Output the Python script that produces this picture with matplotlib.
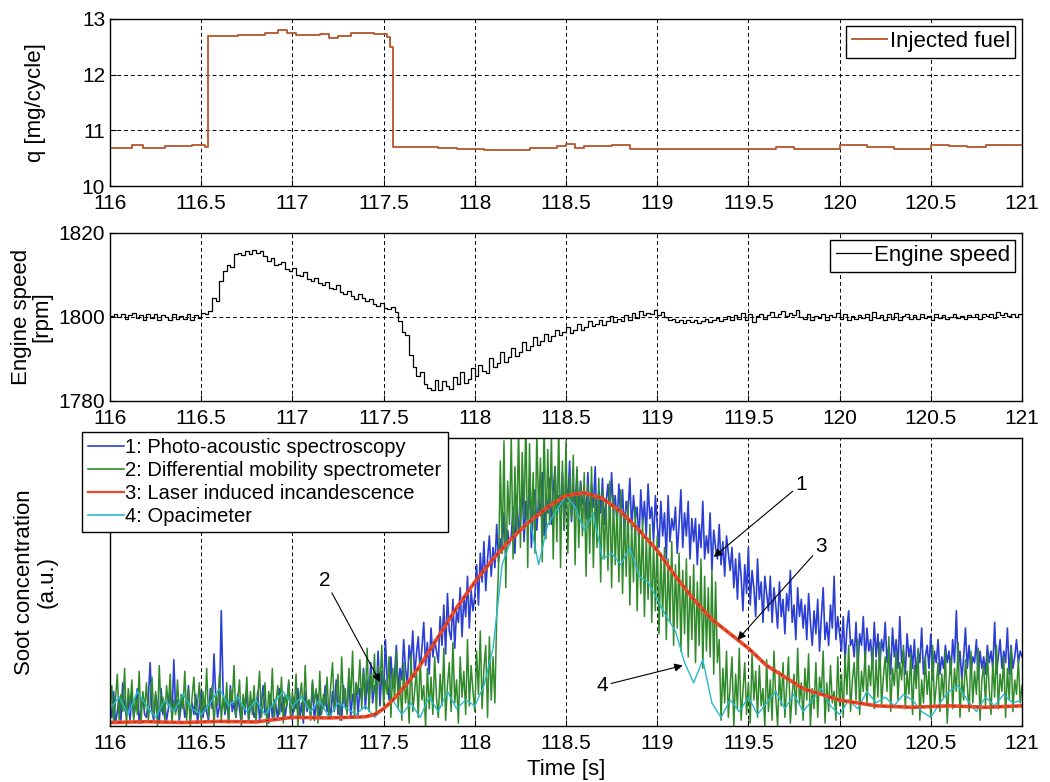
import numpy as np
import matplotlib
matplotlib.use("Agg")
import matplotlib.pyplot as plt
from matplotlib.lines import Line2D

plt.rcParams['font.family'] = ['Liberation Sans', 'DejaVu Sans']

# --- injected fuel (step signal) ---
t_fuel = [116.0, 116.12, 116.18, 116.3, 116.45, 116.52, 116.535, 116.7, 116.85, 116.92,
          116.97, 117.02, 117.15, 117.2, 117.25, 117.32, 117.45, 117.52, 117.535, 117.55,
          117.8, 117.9, 118.05, 118.3, 118.45, 118.5, 118.55, 118.6, 118.75, 118.85,
          119.0, 119.55, 119.65, 119.75, 120.0, 120.15, 120.3, 120.5, 120.6, 120.7,
          120.8, 121.0]
q_fuel = [10.68, 10.73, 10.69, 10.71, 10.74, 10.70, 12.70, 12.72, 12.75, 12.80,
          12.74, 12.71, 12.73, 12.66, 12.70, 12.74, 12.73, 12.67, 12.50, 10.70,
          10.68, 10.66, 10.65, 10.68, 10.72, 10.76, 10.69, 10.72, 10.73, 10.67,
          10.66, 10.67, 10.70, 10.67, 10.74, 10.70, 10.67, 10.74, 10.72, 10.70,
          10.73, 10.73]

# --- engine speed, sampled every 20 ms ---
t_speed = 116.0 + 0.02 * np.arange(251)
n_speed = [
    1800.2, 1800.8, 1799.9, 1800.6, 1799.6, 1800.4, 1800.9, 1799.7, 1800.5, 1799.3,
    1800.6, 1799.8, 1800.7, 1799.3, 1800.4, 1800.0, 1799.2, 1800.8, 1799.6, 1800.3,
    1799.5, 1800.7, 1799.2, 1800.5, 1799.8, 1801.0, 1800.8, 1801.5, 1804.5, 1803.8,
    1808.5, 1811.0, 1812.5, 1811.8, 1815.0, 1815.2, 1814.8, 1815.6, 1815.0, 1816.0,
    1815.3, 1815.8, 1814.5, 1813.4, 1814.0, 1812.3, 1812.6, 1813.0, 1811.4, 1811.0,
    1811.6, 1810.0, 1809.8, 1810.6, 1809.0, 1808.6, 1809.4, 1808.2, 1807.6, 1808.4,
    1807.0, 1806.6, 1807.6, 1806.0, 1805.4, 1806.2, 1805.0, 1804.4, 1805.4, 1804.6,
    1803.8, 1804.4, 1803.2, 1802.6, 1803.4, 1802.2, 1801.8, 1802.4, 1801.2, 1799.0,
    1796.5, 1795.8, 1791.0, 1788.0, 1786.0, 1786.8, 1784.0, 1783.0, 1782.6, 1785.0,
    1782.6, 1784.8, 1783.6, 1782.8, 1785.6, 1784.0, 1786.8, 1784.4, 1785.2, 1787.8,
    1786.0, 1788.6, 1787.2, 1786.6, 1790.2, 1788.0, 1789.0, 1791.6, 1789.4, 1790.4,
    1792.6, 1790.8, 1791.6, 1794.0, 1792.2, 1793.0, 1795.2, 1793.4, 1794.2, 1796.0,
    1794.4, 1795.4, 1797.0, 1795.6, 1796.4, 1797.6, 1796.2, 1797.0, 1798.4, 1797.0,
    1797.6, 1799.0, 1797.8, 1798.4, 1799.4, 1798.2, 1799.0, 1800.2, 1798.8, 1799.6,
    1799.0, 1800.4, 1799.2, 1801.0, 1799.8, 1801.4, 1800.4, 1801.0, 1800.6, 1801.6,
    1800.4, 1801.2, 1800.0, 1799.2, 1799.6, 1798.8, 1799.4, 1798.6, 1799.2, 1798.8,
    1799.4, 1798.6, 1799.0, 1799.6, 1798.8, 1799.4, 1799.8, 1799.0, 1799.6, 1800.2,
    1799.2, 1800.4, 1799.6, 1801.0, 1799.4, 1800.6, 1798.8, 1800.2, 1800.8, 1799.6,
    1800.4, 1801.2, 1800.0, 1800.8, 1801.4, 1800.2, 1801.0, 1800.4, 1801.6, 1800.0,
    1799.6, 1800.6, 1799.4, 1800.2, 1799.8, 1800.8, 1799.2, 1800.4, 1800.0, 1801.0,
    1799.6, 1800.8, 1799.4, 1800.2, 1799.6, 1800.4, 1799.8, 1800.6, 1799.4, 1801.2,
    1799.8, 1800.4, 1799.2, 1800.6, 1799.6, 1801.0, 1799.4, 1800.2, 1800.6, 1799.6,
    1800.4, 1799.6, 1800.8, 1799.8, 1800.2, 1799.4, 1800.6, 1799.8, 1800.4, 1799.6,
    1800.0, 1800.6, 1799.8, 1800.2, 1799.6, 1800.4, 1800.0, 1800.6, 1799.6, 1800.8,
    1800.2, 1800.6, 1799.8, 1801.2, 1800.4, 1801.0, 1800.2, 1800.8, 1800.0, 1800.6,
    1800.4]

# --- soot signals (arbitrary units), 10 ms samples ---
t_soot = 116.0 + 0.01 * np.arange(501)
pas = [
    8, 3, 12, 1, 5, 10, 2, 15, 6, 4, 9, 2, 11, 3, 7, 13, 1, 6, 10, 4,
    3, 9, 22, 5, 2, 11, 7, 1, 13, 4, 8, 2, 6, 12, 3, 23, 5, 9, 2, 7,
    10, 3, 6, 14, 2, 8, 4, 11, 1, 7, 12, 3, 9, 5, 2, 13, 6, 25, 10, 3,
    7, 40, 12, 4, 9, 2, 14, 5, 8, 3, 11, 6, 1, 10, 4, 13, 2, 7, 9, 3,
    5, 12, 2, 8, 14, 4, 6, 1, 11, 3, 9, 7, 2, 13, 5, 10, 3, 8, 15, 4,
    2, 10, 6, 13, 3, 8, 1, 12, 5, 9, 4, 15, 2, 7, 11, 3, 9, 6, 14, 5,
    8, 3, 12, 6, 16, 4, 10, 2, 14, 7, 5, 18, 3, 11, 8, 15, 4, 13, 9, 20,
    6, 16, 10, 22, 8, 14, 12, 26, 7, 19, 11, 30, 15, 9, 24, 13, 18, 28, 12, 20,
    16, 30, 20, 14, 28, 22, 33, 17, 25, 31, 19, 27, 36, 21, 29, 18, 34, 24, 30, 26,
    22, 38, 28, 42, 25, 46, 33, 30, 44, 27, 40, 36, 48, 31, 45, 38, 52, 34, 47, 40,
    45, 56, 42, 60, 50, 64, 47, 58, 66, 52, 62, 55, 70, 57, 65, 60, 74, 58, 68, 63,
    66, 76, 60, 80, 68, 72, 84, 64, 78, 70, 86, 62, 75, 82, 68, 79, 73, 88, 66, 80,
    74, 86, 70, 82, 90, 72, 80, 76, 88, 68, 84, 78, 92, 71, 83, 75, 89, 73, 85, 77,
    80, 72, 88, 70, 84, 76, 90, 68, 82, 74, 86, 70, 78, 84, 72, 88, 74, 80, 70, 84,
    72, 82, 66, 78, 74, 86, 68, 80, 72, 76, 64, 82, 70, 78, 66, 84, 72, 76, 64, 80,
    70, 62, 78, 66, 74, 58, 80, 64, 72, 68, 76, 60, 70, 82, 62, 74, 66, 78, 58, 72,
    64, 72, 56, 70, 62, 78, 58, 66, 60, 74, 54, 68, 62, 58, 70, 56, 64, 52, 66, 60,
    54, 62, 48, 58, 44, 60, 52, 40, 56, 46, 62, 42, 54, 48, 38, 58, 44, 50, 36, 52,
    46, 40, 52, 36, 48, 42, 34, 50, 38, 44, 32, 46, 40, 54, 36, 42, 30, 48, 38, 44,
    34, 42, 30, 46, 36, 28, 40, 32, 44, 26, 38, 48, 30, 36, 28, 42, 34, 52, 30, 38,
    32, 26, 38, 22, 34, 40, 28, 30, 24, 36, 20, 32, 28, 38, 22, 34, 26, 30, 20, 36,
    24, 32, 20, 30, 26, 36, 22, 28, 18, 34, 24, 30, 20, 38, 22, 26, 18, 32, 24, 28,
    20, 30, 16, 26, 22, 34, 18, 24, 28, 20, 32, 16, 26, 22, 30, 18, 24, 20, 28, 22,
    26, 18, 30, 22, 40, 20, 26, 16, 24, 34, 20, 28, 18, 24, 22, 30, 16, 26, 20, 24,
    18, 28, 22, 26, 20, 36, 18, 24, 30, 20, 26, 22, 34, 18, 28, 20, 24, 30, 22, 26,
    24]
dms = [
    3, 14, 1, 9, 18, 2, 11, 5, 20, 0, 13, 7, 16, 2, 10, 4, 19, 1, 12, 6,
    15, 2, 8, 17, 3, 12, 0, 21, 5, 10, 2, 14, 7, 18, 1, 9, 4, 16, 3, 11,
    6, 19, 2, 13, 0, 10, 17, 4, 8, 15, 1, 12, 5, 20, 3, 9, 14, 0, 11, 7,
    18, 2, 10, 5, 15, 1, 13, 8, 21, 3, 9, 16, 0, 11, 6, 17, 2, 12, 4, 14,
    1, 10, 19, 3, 8, 15, 0, 12, 6, 20, 2, 9, 14, 4, 17, 1, 11, 7, 16, 3,
    12, 5, 18, 0, 10, 15, 3, 21, 6, 9, 2, 16, 8, 13, 1, 19, 4, 11, 7, 17,
    3, 14, 22, 5, 10, 18, 2, 24, 8, 13, 4, 20, 9, 26, 3, 15, 11, 23, 6, 19,
    10, 27, 5, 18, 12, 25, 4, 21, 14, 28, 7, 16, 11, 24, 3, 20, 9, 26, 6, 17,
    2, 22, 8, 15, 1, 25, 5, 12, 19, 3, 23, 9, 14, 0, 20, 6, 17, 4, 24, 10,
    3, 18, 7, 27, 2, 14, 22, 5, 29, 8, 16, 1, 24, 10, 19, 4, 30, 7, 21, 12,
    5, 26, 11, 33, 6, 20, 28, 3, 31, 9, 24, 8, 38, 55, 92, 60, 99, 48, 85, 70,
    100, 58, 90, 66, 104, 62, 95, 72, 108, 55, 98, 68, 88, 60, 102, 74, 93, 57, 106, 65,
    96, 70, 101, 58, 90, 64, 105, 55, 92, 68, 99, 60, 87, 72, 94, 56, 90, 62, 85, 66,
    88, 52, 84, 60, 90, 55, 80, 62, 86, 50, 82, 58, 78, 54, 85, 48, 80, 56, 76, 50,
    82, 46, 74, 52, 78, 42, 70, 50, 76, 40, 68, 46, 72, 38, 66, 44, 70, 36, 64, 40,
    66, 32, 60, 38, 62, 30, 58, 36, 64, 28, 56, 34, 60, 26, 54, 32, 58, 24, 52, 30,
    56, 22, 50, 28, 58, 20, 52, 26, 48, 24, 54, 18, 50, 22, 30, 2, 20, 8, 26, 3,
    14, 24, 0, 18, 6, 27, 2, 12, 22, 4, 15, 1, 25, 9, 19, 3, 21, 7, 13, 0,
    23, 5, 16, 2, 26, 10, 0, 19, 7, 22, 3, 14, 24, 1, 11, 18, 4, 27, 8, 15,
    2, 20, 9, 25, 0, 13, 6, 22, 3, 17, 11, 26, 1, 15, 5, 21, 8, 12, 2, 24,
    7, 18, 3, 25, 11, 28, 5, 16, 22, 9, 30, 4, 19, 12, 26, 8, 21, 14, 27, 6,
    23, 10, 29, 7, 17, 24, 12, 31, 5, 20, 14, 26, 9, 22, 16, 28, 6, 19, 11, 25,
    4, 21, 13, 27, 2, 16, 8, 24, 11, 19, 3, 28, 7, 14, 22, 5, 18, 10, 26, 1,
    15, 24, 6, 20, 12, 29, 3, 17, 9, 23, 14, 5, 26, 8, 19, 11, 27, 2, 16, 21,
    7, 25, 13, 4, 22, 10, 28, 6, 18, 12, 24, 3, 20, 9, 27, 5, 16, 11, 23, 8,
    14]

# opacimeter, 50 ms samples
t_opa = 116.0 + 0.05 * np.arange(101)
opa = [
    6, 10, 4, 12, 7, 3, 9, 5, 11, 6,
    4, 8, 13, 7, 10, 5, 9, 4, 8, 12,
    7, 10, 5, 9, 3, 8, 6, 4, 7, 3,
    6, 9, 4, 8, 3, 10, 5, 12, 6, 9,
    7, 14, 27, 56, 65, 68, 72, 56, 70, 75,
    80, 76, 68, 74, 58, 60, 56, 62, 52, 50,
    44, 38, 33, 22, 15, 23, 8, 3, 9, 5,
    10, 4, 8, 12, 6, 11, 5, 9, 13, 7,
    4, 9, 6, 12, 8, 10, 7, 11, 9, 5,
    3, 8, 12, 14, 9, 5, 10, 7, 11, 8,
    9]

# laser induced incandescence (smooth)
t_lii = [116.0, 116.2, 116.4, 116.6, 116.8, 117.0, 117.2, 117.4, 117.45, 117.5,
         117.55, 117.6, 117.65, 117.7, 117.8, 117.9, 118.0, 118.1, 118.2, 118.3,
         118.4, 118.5, 118.6, 118.7, 118.8, 118.9, 119.0, 119.1, 119.2, 119.3,
         119.4, 119.5, 119.6, 119.7, 119.8, 119.9, 120.0, 120.2, 120.4, 120.6,
         120.8, 121.0]
lii = [1.2, 1.5, 1.2, 1.6, 1.4, 3.0, 2.8, 3.2, 4.0, 6.0,
       9.0, 12.5, 16.5, 21.0, 31.0, 41.0, 50.0, 58.0, 65.0, 71.0,
       76.0, 80.0, 81.0, 79.0, 74.5, 68.0, 61.0, 52.0, 44.0, 37.0,
       32.0, 27.0, 21.0, 17.0, 13.0, 11.0, 9.0, 7.0, 6.5, 7.0,
       6.5, 7.0]

xticks = [116, 116.5, 117, 117.5, 118, 118.5, 119, 119.5, 120, 120.5, 121]
xticklabels = ['116', '116.5', '117', '117.5', '118', '118.5', '119', '119.5', '120', '120.5', '121']

W, H = 1050, 782
fig = plt.figure(figsize=(W / 100, H / 100), dpi=100)

def axes_px(left, top, right, bottom):
    return fig.add_axes([left / W, 1 - bottom / H, (right - left) / W, (bottom - top) / H])

ax1 = axes_px(110, 19, 1022, 186)
ax2 = axes_px(110, 233, 1022, 401)
ax3 = axes_px(110, 438, 1022, 726)

grid_kw = dict(color='k', linestyle=(0, (4, 3)), linewidth=0.7)
for ax in (ax1, ax2, ax3):
    ax.set_xlim(116, 121)
    ax.set_xticks(xticks)
    ax.set_xticklabels(xticklabels)
    ax.tick_params(direction='in', length=4, labelsize=15)
    ax.tick_params(axis='x', pad=6)
    for s in ax.spines.values():
        s.set_linewidth(1.0)
    ax.set_axisbelow(True)

# top: injected fuel
ax1.plot(t_fuel, q_fuel, drawstyle='steps-post', color='#b5552b', lw=1.3, label='Injected fuel')
ax1.set_ylim(10, 13)
ax1.set_yticks([10, 11, 12, 13])
ax1.grid(True, **grid_kw)
ax1.set_ylabel('q [mg/cycle]', fontsize=16, labelpad=26)
leg_kw = dict(loc='upper right', fontsize=16, fancybox=False, edgecolor='k', framealpha=1,
              handlelength=1.6, handletextpad=0.1, borderpad=0.25, borderaxespad=0.3)
l1 = ax1.legend(**leg_kw)
l1.get_frame().set_linewidth(1.0)

# middle: engine speed
ax2.plot(t_speed, n_speed, drawstyle='steps-post', color='k', lw=0.9, label='Engine speed')
ax2.set_ylim(1780, 1820)
ax2.set_yticks([1780, 1800, 1820])
ax2.grid(True, **grid_kw)
ax2.set_ylabel('Engine speed\n[rpm]', fontsize=16, labelpad=4, linespacing=1.0)
l2 = ax2.legend(**leg_kw)
l2.get_frame().set_linewidth(1.0)

# bottom: soot concentration
c_pas, c_dms, c_lii, c_opa = '#2b3fd4', '#2f8a2a', '#ee4a2a', '#2ab8cc'
ax3.plot(t_soot, pas, color=c_pas, lw=1.2)
ax3.plot(t_soot, dms, color=c_dms, lw=1.1)
ax3.plot(t_opa, opa, color=c_opa, lw=1.0)
ax3.plot(t_lii, lii, color=c_lii, lw=2.6)
ax3.plot(t_lii, lii, color='#6a1a08', lw=0.8, linestyle=(0, (3, 4)), alpha=0.6)
ax3.set_ylim(0, 100)
ax3.set_yticks([])
ax3.xaxis.grid(True, **grid_kw)
ax3.set_ylabel('Soot concentration\n(a.u.)', fontsize=16, labelpad=38, linespacing=1.1)
ax3.set_xlabel('Time [s]', fontsize=16, labelpad=4)

handles = [Line2D([], [], color=c_pas, lw=1.2), Line2D([], [], color=c_dms, lw=1.2),
           Line2D([], [], color=c_lii, lw=1.6), Line2D([], [], color=c_opa, lw=1.2)]
labels = ['1: Photo-acoustic spectroscopy', '2: Differential mobility spectrometer',
          '3: Laser induced incandescence', '4: Opacimeter']
l3 = ax3.legend(handles, labels, loc='upper left', bbox_to_anchor=(82 / W, 1 - 432 / H),
                bbox_transform=fig.transFigure, borderaxespad=0, fontsize=14.5,
                fancybox=False, edgecolor='k', framealpha=1, handlelength=1.8,
                handletextpad=0.05, borderpad=0.3, labelspacing=0.2)
l3.get_frame().set_linewidth(1.0)

arrow_kw = dict(arrowstyle='-|>', color='k', lw=0.8, mutation_scale=12, shrinkA=0, shrinkB=0)
notes = [('1', (119.31, 58.7), (119.79, 84.0)),
         ('3', (119.44, 29.9), (119.90, 62.5)),
         ('4', (119.14, 21.0), (118.70, 14.0)),
         ('2', (117.48, 15.3), (117.18, 50.5))]
for txt, xy, xytext in notes:
    ax3.annotate(txt, xy=xy, xytext=xytext, fontsize=15, ha='center', va='center',
                 arrowprops=arrow_kw)

fig.savefig('out.png', dpi=100)
